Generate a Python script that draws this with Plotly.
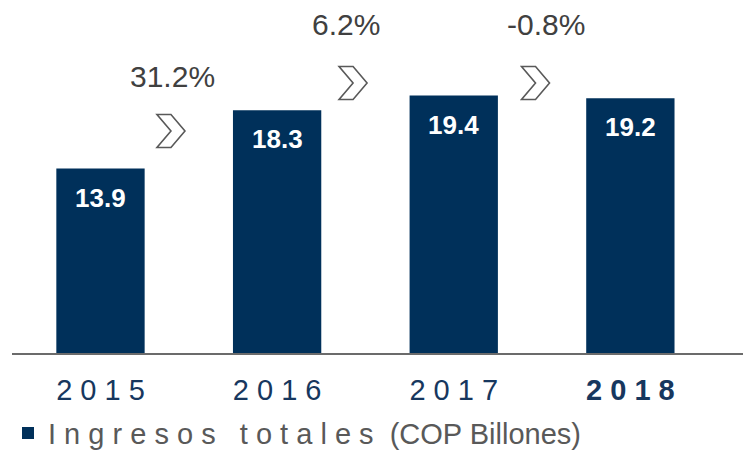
import plotly.graph_objects as go

years = ["2015", "2016", "2017", "2018"]
values = [13.9, 18.3, 19.4, 19.2]
value_labels = ["13.9", "18.3", "19.4", "19.2"]
growth_labels = ["31.2%", "6.2%", "-0.8%"]
tick_labels = ["2 0 1 5", "2 0 1 6", "2 0 1 7", "<b>2 0 1 8</b>"]
series_name = "I n g r e s o s \u00a0 t o t a l e s \u00a0(COP Billones)"

NAVY = "#00305A"
GRAY = "#404040"
FONT = "Liberation Sans, Arial, sans-serif"

xpos = list(range(len(years)))

fig = go.Figure()
fig.add_trace(go.Bar(
    x=xpos, y=values, width=0.5, name=series_name,
    marker=dict(color=NAVY, line=dict(width=0)),
    showlegend=True, hoverinfo="skip",
))

# value labels inside bars
for xi, v, t in zip(xpos, values, value_labels):
    fig.add_annotation(x=xi, y=v, text="<b>" + t + "</b>", showarrow=False, yanchor="middle",
                       yshift=-29, font=dict(family=FONT, size=26, color="white"),
                       xref="x", yref="y")

# growth labels and chevrons (layout positions)
growth_pos = [(0.41, 20.87), (1.39, 24.72), (2.52, 24.72)]
chevron_pos = [(0.399, 16.73), (1.43, 20.35), (2.463, 20.35)]
for (gx, gy), t in zip(growth_pos, growth_labels):
    fig.add_annotation(x=gx, y=gy, text=t, showarrow=False, xanchor="center",
                       yanchor="middle", font=dict(family=FONT, size=30, color=GRAY),
                       xref="x", yref="y")

chev_path = "M-14,-16.5 L0,-16.5 L14,0 L0,16.5 L-14,16.5 L0,0 Z"
for cx, cy in chevron_pos:
    fig.add_shape(type="path", path=chev_path, xref="x", yref="y",
                  xsizemode="pixel", ysizemode="pixel", xanchor=cx, yanchor=cy,
                  line=dict(color="#595959", width=1.6), fillcolor="white")

fig.update_layout(
    width=743, height=442,
    margin=dict(l=4, r=0, t=0, b=97, autoexpand=False),
    plot_bgcolor="white", paper_bgcolor="white",
    font=dict(family=FONT),
    showlegend=True,
    legend=dict(orientation="h", xref="container", yref="container",
                x=0.0, y=0.038, xanchor="left", yanchor="middle",
                font=dict(family=FONT, size=29, color="#595959"),
                bgcolor="rgba(0,0,0,0)"),
    xaxis=dict(range=[-0.501, 3.683], tickvals=xpos, ticktext=tick_labels,
               showgrid=False, zeroline=False, showline=True, linecolor="#6b6b6b",
               linewidth=2, ticks="", ticklabelstandoff=10, automargin=False,
               tickfont=dict(family=FONT, size=29, color="#17375E")),
    yaxis=dict(range=[0, 26.0], visible=False, showgrid=False, zeroline=False,
               automargin=False),
)

fig.write_html("out.html")
